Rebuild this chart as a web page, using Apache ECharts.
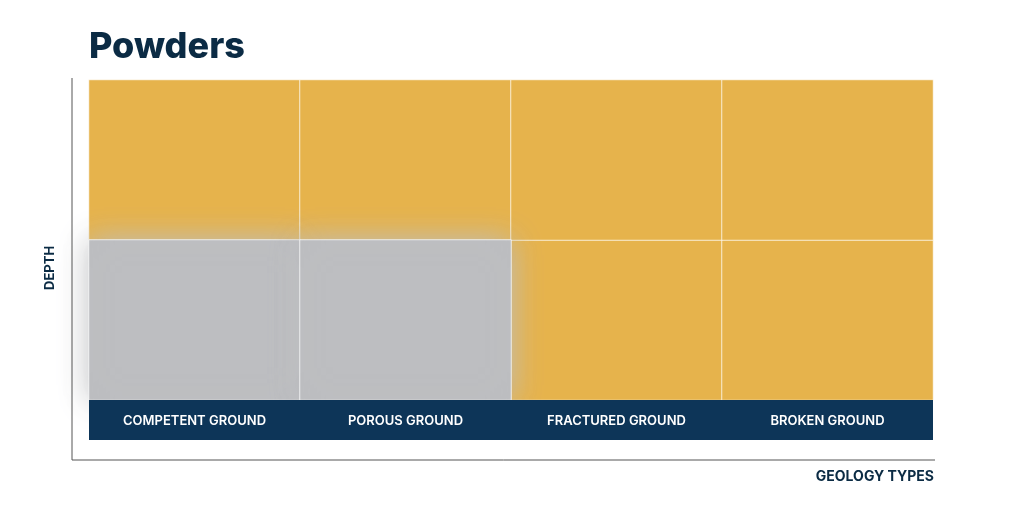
<!DOCTYPE html>
<html><head><meta charset="utf-8">
<script src="https://cdn.jsdelivr.net/npm/echarts@6/dist/echarts.min.js"></script>
<style>html,body{margin:0;background:#fff}#c{width:1019px;height:523px}</style>
</head><body><div id="c"></div>
<script>
var geology = ['COMPETENT GROUND', 'POROUS GROUND', 'FRACTURED GROUND', 'BROKEN GROUND'];
var depth = ['Deep', 'Shallow'];
// 1 = powders suitable (gray), 0 = not (gold)
var suitable = [[0, 0, 1], [1, 0, 1], [2, 0, 0], [3, 0, 0], [0, 1, 0], [1, 1, 0], [2, 1, 0], [3, 1, 0]];

var gold = '#E6B34C', gray = '#BDBEC1', navy = '#0D3558';
var chart = echarts.init(document.getElementById('c'));

var cells = suitable.slice().sort(function (a, b) { return a[2] - b[2]; }).map(function (d) {
  return {
    value: [d[0], d[1], d[2]],
    itemStyle: d[2] ? { color: gray, borderColor: 'rgba(255,255,255,0.7)', borderWidth: 1, shadowColor: gray, shadowBlur: 30 }
                    : { color: gold, borderColor: 'rgba(255,255,255,0.7)', borderWidth: 1 }
  };
});

chart.setOption({
  animation: false,
  title: { text: 'Powders', left: 84, top: 24, textStyle: { fontFamily: 'Inter', fontSize: 36, fontWeight: 800, color: '#0B2B44' } },
  grid: { left: 89, right: 86, top: 80, bottom: 123 },
  xAxis: {
    type: 'category', data: geology, z: 20,
    axisLine: { show: false }, axisTick: { show: false }, splitLine: { show: false },
    axisLabel: { color: '#fff', margin: 15, fontFamily: 'Inter', fontSize: 13, fontWeight: 600, letterSpacing: 1 }
  },
  yAxis: { type: 'category', data: depth, axisLine: { show: false }, axisTick: { show: false }, axisLabel: { show: false } },
  series: [{ type: 'heatmap', data: cells, z: 2 }],
  graphic: [
    { type: 'rect', z: 10, shape: { x: 89, y: 400, width: 844, height: 40 }, style: { fill: navy } },
    { type: 'line', z: 10, shape: { x1: 72, y1: 78, x2: 72, y2: 460 }, style: { stroke: '#555', lineWidth: 1 } },
    { type: 'line', z: 10, shape: { x1: 72, y1: 460, x2: 935, y2: 460 }, style: { stroke: '#555', lineWidth: 1 } },
    { type: 'text', z: 10, x: 44, y: 290, rotation: Math.PI / 2, style: { text: 'DEPTH', fill: '#0B2B44', font: '700 13px Inter', letterSpacing: 1 } },
    { type: 'text', z: 10, right: 85, top: 470, style: { text: 'GEOLOGY TYPES', fill: '#0B2B44', font: '700 14px Inter' } }
  ]
});
</script></body></html>
